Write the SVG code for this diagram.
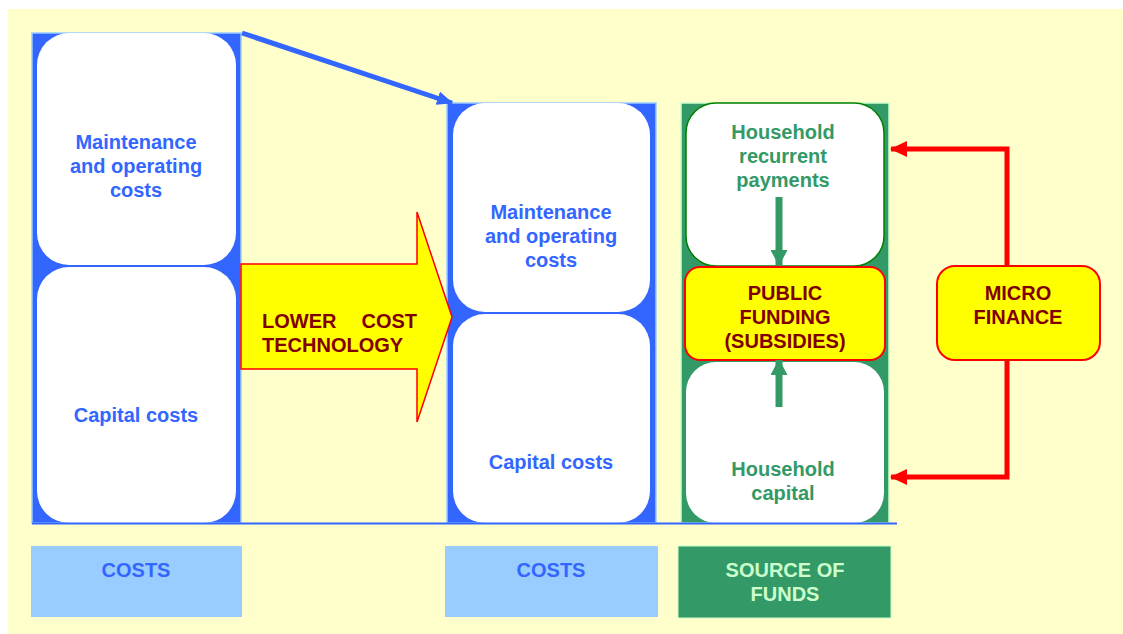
<svg xmlns="http://www.w3.org/2000/svg" width="1123" height="634" viewBox="0 0 1123 634">
  <defs>
    <marker id="blueHead" markerWidth="16" markerHeight="14" refX="15" refY="7" orient="auto" markerUnits="userSpaceOnUse">
      <path d="M0,0 L16,7 L0,14 Z" fill="#3366FF"/>
    </marker>
    <marker id="redHead" markerWidth="17" markerHeight="16" refX="16" refY="8" orient="auto" markerUnits="userSpaceOnUse">
      <path d="M0,0 L17,8 L0,16 Z" fill="#FF0000"/>
    </marker>
    <marker id="greenHead" markerWidth="16" markerHeight="17" refX="15" refY="8.5" orient="auto" markerUnits="userSpaceOnUse">
      <path d="M0,0 L16,8.5 L0,17 Z" fill="#339966"/>
    </marker>
  </defs>
  <style>
    text { font-family: "Liberation Sans", Arial, sans-serif; font-weight: bold; font-size: 20px; text-anchor: middle; }
    text.start { text-anchor: start; }
    text.end { text-anchor: end; }
    .blue { fill: #3366FF; }
    .green { fill: #339966; }
    .maroon { fill: #800000; }
    .pale { fill: #CCFFCC; }
    .col-blue { fill: #3366FF; stroke: #99CCFF; stroke-width: 1.5; }
    .col-green { fill: #339966; stroke: #CCFFCC; stroke-width: 1.5; }
    .card { fill: #FFFFFF; }
    .callout { fill: #FFFF00; stroke: #FF0000; stroke-width: 2; }
    .tag-blue { fill: #99CCFF; }
    .tag-green { fill: #339966; }
  </style>

  <!-- page background -->
  <rect x="0" y="0" width="1123" height="634" fill="#FFFFFF"/>
  <rect x="8" y="9" width="1115" height="625" fill="#FFFFCC"/>

  <!-- current costs column -->
  <g id="costs-current">
    <rect class="col-blue" x="32" y="33" width="209" height="490"/>
    <rect class="card" x="37" y="33" width="199" height="232" rx="32"/>
    <rect class="card" x="37" y="267" width="199" height="256" rx="32"/>
    <text class="blue" x="136" y="149">Maintenance</text>
    <text class="blue" x="136" y="173">and operating</text>
    <text class="blue" x="136" y="197">costs</text>
    <text class="blue" x="136" y="422">Capital costs</text>
  </g>

  <!-- reduced costs column -->
  <g id="costs-reduced">
    <rect class="col-blue" x="447" y="103" width="209" height="420"/>
    <rect class="card" x="453" y="103" width="197" height="209" rx="32"/>
    <rect class="card" x="453" y="314" width="197" height="209" rx="32"/>
    <text class="blue" x="551" y="219">Maintenance</text>
    <text class="blue" x="551" y="243">and operating</text>
    <text class="blue" x="551" y="267">costs</text>
    <text class="blue" x="551" y="469">Capital costs</text>
  </g>

  <!-- funding sources column -->
  <g id="funds">
    <rect class="col-green" x="681" y="103" width="208" height="420"/>
    <rect class="card" x="686" y="103" width="198" height="163" rx="30" stroke="#008000" stroke-width="1.5"/>
    <rect class="card" x="686" y="362" width="198" height="161" rx="30"/>
    <text class="green" x="783" y="139">Household</text>
    <text class="green" x="783" y="163">recurrent</text>
    <text class="green" x="783" y="187">payments</text>
    <text class="green" x="783" y="476">Household</text>
    <text class="green" x="783" y="500">capital</text>
  </g>

  <g id="public-funding">
    <rect class="callout" x="685" y="267" width="200" height="93" rx="15"/>
    <text class="maroon" x="785" y="300">PUBLIC</text>
    <text class="maroon" x="785" y="324">FUNDING</text>
    <text class="maroon" x="785" y="348">(SUBSIDIES)</text>
  </g>

  <g id="micro-finance">
    <rect class="callout" x="937" y="266" width="163" height="94" rx="18"/>
    <text class="maroon" x="1018" y="300">MICRO</text>
    <text class="maroon" x="1018" y="324">FINANCE</text>
  </g>

  <!-- lower cost technology block arrow -->
  <g id="lower-cost-technology">
    <path d="M241,264 L417,264 L417,212 L452,317 L417,422 L417,369 L241,369 Z" fill="#FFFF00" stroke="#FF0000" stroke-width="1.5" stroke-linejoin="miter"/>
    <text class="maroon start" x="262" y="328">LOWER</text>
    <text class="maroon end" x="417" y="328">COST</text>
    <text class="maroon start" x="262" y="352">TECHNOLOGY</text>
  </g>

  <!-- caption tags -->
  <g id="tag-costs-current">
    <rect class="tag-blue" x="31" y="546" width="211" height="71"/>
    <text class="blue" x="136" y="577">COSTS</text>
  </g>
  <g id="tag-costs-reduced">
    <rect class="tag-blue" x="445" y="546" width="213" height="71"/>
    <text class="blue" x="551" y="577">COSTS</text>
  </g>
  <g id="tag-funds">
    <rect class="tag-green" x="678" y="546" width="213" height="72" stroke="#CCFFCC" stroke-width="1"/>
    <text class="pale" x="785" y="577">SOURCE OF</text>
    <text class="pale" x="785" y="601">FUNDS</text>
  </g>

  <!-- connectors -->
  <g id="connectors" fill="none">
    <line x1="32" y1="523.5" x2="897" y2="523.5" stroke="#3366FF" stroke-width="2"/>
    <line x1="242" y1="33" x2="452" y2="103" stroke="#3366FF" stroke-width="5" marker-end="url(#blueHead)"/>
    <polyline points="1007,266 1007,149 891,149" stroke="#FF0000" stroke-width="5" marker-end="url(#redHead)"/>
    <polyline points="1007,360 1007,477 891,477" stroke="#FF0000" stroke-width="5" marker-end="url(#redHead)"/>
    <line x1="779" y1="197" x2="779" y2="265" stroke="#339966" stroke-width="7" marker-end="url(#greenHead)"/>
    <line x1="779" y1="407" x2="779" y2="360" stroke="#339966" stroke-width="7" marker-end="url(#greenHead)"/>
  </g>
</svg>
